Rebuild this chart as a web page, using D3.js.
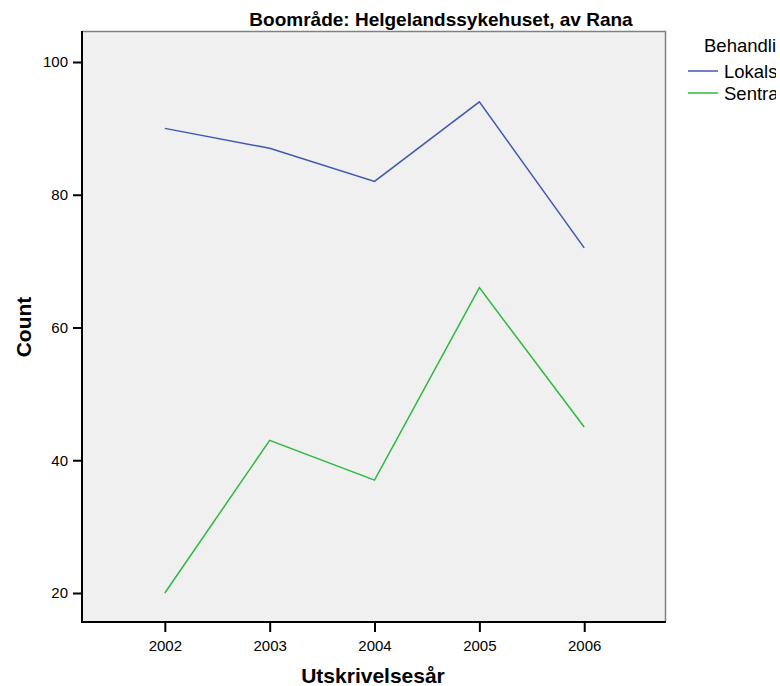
<!DOCTYPE html>
<html><head><meta charset="utf-8">
<script src="https://cdn.jsdelivr.net/npm/d3@7"></script>
<style>body{margin:0;background:#fff;overflow:hidden}svg{display:block;font-family:"Liberation Sans",Arial,sans-serif}</style>
</head><body>
<svg id="c" width="780" height="686"></svg>
<script>
const years = [2002, 2003, 2004, 2005, 2006];
const lokal = [90, 87, 82, 94, 72];
const sentral = [20, 43, 37, 66, 45];
const yTicks = [20, 40, 60, 80, 100];
const seriesNames = ["Lokalsykehus", "Sentralsykehus"];
const legendTitle = "Behandlingsnivå";
const title = "Boområde: Helgelandssykehuset, av Rana";
const xTitle = "Utskrivelsesår";
const yTitle = "Count";

const svg = d3.select("#c");
const L = 82, R = 666, T = 31, B = 622;
const x = d3.scaleLinear().domain([2001.21, 2006.78]).range([L, R]);
const y = d3.scaleLinear().domain([15.63, 104.67]).range([B, T]);
const colors = ["#3e58b0", "#2cb940"];

svg.append("defs").append("clipPath").attr("id", "lgclip")
  .append("rect").attr("x", 680).attr("y", 0).attr("width", 96).attr("height", 120);

svg.append("rect").attr("x", L).attr("y", T).attr("width", R - L).attr("height", B - T).attr("fill", "#f0f0f0");
svg.append("line").attr("x1", L).attr("x2", R).attr("y1", T + 0.5).attr("y2", T + 0.5).attr("stroke", "#808080").attr("stroke-width", 1.5);
svg.append("line").attr("x1", R - 0.5).attr("x2", R - 0.5).attr("y1", T).attr("y2", B).attr("stroke", "#808080").attr("stroke-width", 1.5);

const line = d3.line().x((d, i) => x(years[i])).y(d => y(d));
[lokal, sentral].forEach((s, k) => {
  svg.append("path").attr("d", line(s)).attr("fill", "none").attr("stroke", colors[k]).attr("stroke-width", 1.5);
});

const yAxis = svg.append("g").attr("transform", `translate(${L},0)`)
  .call(d3.axisLeft(y).tickValues(yTicks).tickSize(9).tickPadding(5));
const xAxis = svg.append("g").attr("transform", `translate(0,${B})`)
  .call(d3.axisBottom(x).tickValues(years).tickFormat(d3.format("d")).tickSize(10).tickPadding(8));
[yAxis, xAxis].forEach(a => {
  a.select(".domain").remove();
  a.selectAll("line").attr("stroke", "#000").attr("stroke-width", 2);
  a.selectAll("text").attr("font-size", 15).attr("fill", "#000").style("font-family", "'Liberation Sans',Arial,sans-serif");
});
svg.append("line").attr("x1", L).attr("x2", L).attr("y1", T).attr("y2", B + 1).attr("stroke", "#000").attr("stroke-width", 2);
svg.append("line").attr("x1", L - 1).attr("x2", R).attr("y1", B).attr("y2", B).attr("stroke", "#000").attr("stroke-width", 2);

svg.append("text").attr("x", 441).attr("y", 26).attr("text-anchor", "middle").attr("font-weight", "bold").attr("font-size", 19).text(title);
svg.append("text").attr("x", 373).attr("y", 683).attr("text-anchor", "middle").attr("font-weight", "bold").attr("font-size", 21).text(xTitle);
svg.append("text").attr("transform", "translate(31,327) rotate(-90)").attr("text-anchor", "middle").attr("font-weight", "bold").attr("font-size", 21).text(yTitle);

const lg = svg.append("g").attr("clip-path", "url(#lgclip)");
lg.append("text").attr("x", 704).attr("y", 52).attr("font-size", 18.5).text(legendTitle);
seriesNames.forEach((n, k) => {
  const yy = 71 + k * 22;
  lg.append("line").attr("x1", 688).attr("x2", 718).attr("y1", yy).attr("y2", yy).attr("stroke", colors[k]).attr("stroke-width", 1.5);
  lg.append("text").attr("x", 724).attr("y", yy + 6.5).attr("font-size", 18.5).text(n);
});
</script>
</body></html>
